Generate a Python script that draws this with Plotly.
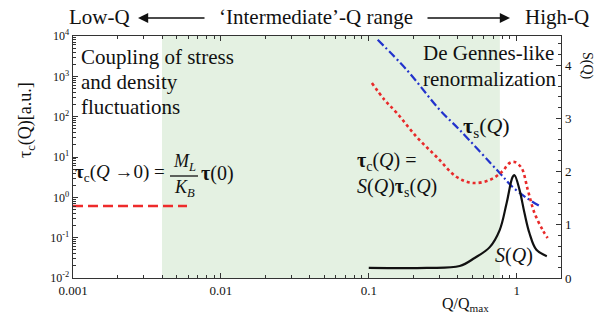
import plotly.graph_objects as go

# ---------------- data ----------------
q_lowq = [0.001, 0.0059]
tau_lowq = [0.61, 0.61]

q_band = [0.0040, 0.77]          # 'intermediate' Q range (shaded)

q_S = [0.10, 0.247, 0.412, 0.52, 0.658, 0.768, 0.856, 0.94, 0.968, 1.047, 1.13, 1.22, 1.36, 1.60]
S_vals = [0.19, 0.19, 0.225, 0.376, 0.58, 0.90, 1.41, 1.90, 1.93, 1.65, 1.22, 0.845, 0.53, 0.41]

q_tc = [0.105, 0.128, 0.155, 0.211, 0.288, 0.393, 0.505, 0.658, 0.792, 0.897, 0.968, 1.08, 1.19, 1.32, 1.50, 1.62]
tau_c = [684, 259, 123, 31.3, 10, 3.19, 2.27, 2.69, 4.25, 7.1, 7.5, 5.33, 1.52, 0.41, 0.155, 0.098]

q_ts = [0.115, 0.181, 0.302, 0.412, 0.768, 0.94, 1.17, 1.43]
tau_s = [8035, 1439, 147, 46.8, 4.02, 1.80, 0.964, 0.61]

x_tickvals = [0.001, 0.01, 0.1, 1]
x_ticktext = ["0.001", "0.01", "0.1", "1"]
y_tickvals = [1e-2, 1e-1, 1e0, 1e1, 1e2, 1e3, 1e4]
y_ticktext = ["10<sup>-2</sup>", "10<sup>-1</sup>", "10<sup>0</sup>", "10<sup>1</sup>",
              "10<sup>2</sup>", "10<sup>3</sup>", "10<sup>4</sup>"]
s_tickvals = [0, 1, 2, 3, 4]

# ---------------- layout geometry ----------------
W, H = 599, 318
L, R, T, B = 73, 561, 36, 278
SERIF = "Liberation Serif"
INK = "#111111"
FRAME = "#333333"


def px(x):
    return (x - L) / (R - L)


def py(y):
    return (B - y) / (B - T)


fig = go.Figure()

# shaded band
fig.add_trace(go.Scatter(
    x=[q_band[0], q_band[0], q_band[1], q_band[1]],
    y=[y_tickvals[0], y_tickvals[-1], y_tickvals[-1], y_tickvals[0]],
    fill="toself", fillcolor="#e4f1e2", mode="none", hoverinfo="skip", showlegend=False))

fig.add_trace(go.Scatter(x=q_lowq, y=tau_lowq, mode="lines",
                         line=dict(color="#ee2b2b", width=2.6, dash="10px,5px"), showlegend=False))
fig.add_trace(go.Scatter(x=q_ts, y=tau_s, mode="lines", line_shape="spline",
                         line=dict(color="#2233cc", width=2.2, dash="8px,3px,2px,3px"), showlegend=False))
fig.add_trace(go.Scatter(x=q_tc, y=tau_c, mode="lines", line_shape="spline",
                         line=dict(color="#e82a2a", width=2.6, dash="dot"), showlegend=False))
fig.add_trace(go.Scatter(x=q_S, y=S_vals, mode="lines", line_shape="spline", yaxis="y2",
                         line=dict(color="#111111", width=2.2), showlegend=False))

minor_x = [m * 10 ** e for e in range(-3, 1) for m in range(2, 10)]
minor_y = [m * 10 ** e for e in range(-2, 4) for m in range(2, 10)]

fig.update_layout(
    width=W, height=H, paper_bgcolor="white", plot_bgcolor="white",
    margin=dict(l=L, r=W - R, t=T, b=H - B),
    font=dict(family=SERIF, color=INK, size=13),
    xaxis=dict(type="log", range=[-3, 0.30], tickmode="array", tickvals=x_tickvals, ticktext=x_ticktext,
               ticks="inside", ticklen=5, tickcolor=FRAME, showline=True, linecolor=FRAME, linewidth=1.4,
               mirror="ticks", showgrid=False, zeroline=False, tickfont=dict(size=13),
               minor=dict(tickmode="array", tickvals=minor_x, ticks="inside", ticklen=3, tickcolor=FRAME,
                          showgrid=False)),
    yaxis=dict(type="log", range=[-2, 4], tickmode="array", tickvals=y_tickvals, ticktext=y_ticktext,
               ticks="inside", ticklen=5, tickcolor=FRAME, showline=True, linecolor=FRAME, linewidth=1.4,
               showgrid=False, zeroline=False, tickfont=dict(size=12),
               minor=dict(tickmode="array", tickvals=minor_y, ticks="inside", ticklen=3, tickcolor=FRAME,
                          showgrid=False)),
    yaxis2=dict(overlaying="y", side="right", anchor="x", range=[0, 4.545], tickmode="array",
                tickvals=s_tickvals, ticks="inside", ticklen=5, tickcolor=FRAME, showline=True,
                linecolor=FRAME, linewidth=1.4, showgrid=False, zeroline=False, tickfont=dict(size=13),
                minor=dict(dtick=0.2, ticks="inside", ticklen=3, tickcolor=FRAME, showgrid=False)),
)


def txt(x, y, s, size=21, xanchor="left", angle=0):
    fig.add_annotation(x=px(x), y=py(y), xref="paper", yref="paper", text=s, showarrow=False,
                       xanchor=xanchor, yanchor="middle", textangle=angle, borderpad=0,
                       font=dict(family=SERIF, size=size, color=INK))


def arrow(x_head, x_tail, y):
    fig.add_annotation(x=px(x_head), y=py(y), xref="paper", yref="paper", text="", showarrow=True,
                       ax=x_tail - x_head, ay=0, axref="pixel", ayref="pixel",
                       arrowhead=2, arrowsize=1.2, arrowwidth=1.7, arrowcolor=INK)


TAU = "<b>\u03c4</b>"

# header
txt(68, 17, "Low-Q", 21)
arrow(138, 206, 18)
txt(316, 17, "\u2018Intermediate\u2019-Q range", 21, xanchor="center")
arrow(510, 426, 18)
txt(590, 17, "High-Q", 21, xanchor="right")

# region labels
txt(80, 57, "Coupling of stress", 21)
txt(80, 82, "and density", 21)
txt(80, 107, "fluctuations", 21)
txt(422, 53, "De Gennes-like", 21)
txt(422, 79, "renormalization", 21)

# curve labels
txt(462, 127, TAU + "<sub>s</sub>(<i>Q</i>)", 22)
txt(356, 161, TAU + "<sub>c</sub>(<i>Q</i>) =", 20)
txt(356, 187, "<i>S</i>(<i>Q</i>)" + TAU + "<sub>s</sub>(<i>Q</i>)", 20)
txt(494, 255, "<i>S</i>(<i>Q</i>)", 20)

# low-Q formula
txt(74, 173, TAU + "<sub>c</sub>(<i>Q</i> \u21920) =", 19)
txt(184, 162, "<i>M<sub>L</sub></i>", 18, xanchor="center")
txt(184, 188, "<i>K<sub>B</sub></i>", 18, xanchor="center")
fig.add_shape(type="line", xref="paper", yref="paper", x0=px(170), x1=px(198), y0=py(176), y1=py(176),
              line=dict(color=INK, width=1.3))
txt(200, 173, TAU + "(0)", 20)

# axis titles
txt(27, 120, "\u03c4<sub>c</sub>(Q)[a.u.]", 18, xanchor="center", angle=-90)
txt(587, 66, "S(Q)", 14, xanchor="center", angle=90)
txt(465, 304, "Q/Q<sub>max</sub>", 16, xanchor="center")

fig.write_html("out.html", config={"displayModeBar": False, "staticPlot": True},
               post_script="document.body.style.margin='0px';document.body.style.overflow='hidden';")
